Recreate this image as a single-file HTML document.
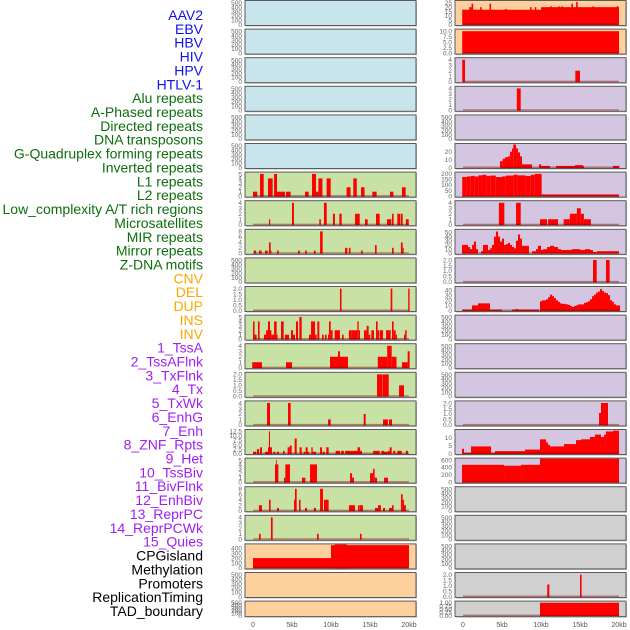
<!DOCTYPE html>
<html><head><meta charset="utf-8"><style>
html,body{margin:0;padding:0;background:#fff;}
svg{display:block;font-family:"Liberation Sans",sans-serif;}
</style></head><body>
<svg id="chart" width="630" height="630" viewBox="0 0 630 630" xmlns="http://www.w3.org/2000/svg"></svg>
<script>
// ---- labels ----
const rowLabels = ["AAV2","EBV","HBV","HIV","HPV","HTLV-1","Alu repeats","A-Phased repeats","Directed repeats","DNA transposons","G-Quadruplex forming repeats","Inverted repeats","L1 repeats","L2 repeats","Low_complexity A/T rich regions","Microsatellites","MIR repeats","Mirror repeats","Z-DNA motifs","CNV","DEL","DUP","INS","INV","1_TssA","2_TssAFlnk","3_TxFlnk","4_Tx","5_TxWk","6_EnhG","7_Enh","8_ZNF_Rpts","9_Het","10_TssBiv","11_BivFlnk","12_EnhBiv","13_ReprPC","14_ReprPCWk","15_Quies","CPGisland","Methylation","Promoters","ReplicationTiming","TAD_boundary"];
const xTickVals = [0,5,10,15,20];
const xTickLabels = ["0","5kb","10kb","15kb","20kb"];

// ---- left column series: [startKb, endKb, value] ----
const L6 = [[0,0.55,1],[0.9,1.37,5],[1.92,2.52,4],[2.7,3.08,5],[3.08,4.1,1],[4.23,4.83,1],[6.67,7.14,1],[7.56,8.08,5],[8.08,8.38,1],[8.38,8.9,4],[9.44,9.96,4],[12,12.5,2],[12.86,13.3,4],[13.85,14.3,2],[15.3,15.85,1],[17.56,18,1],[19.1,19.57,2]];
const L7 = [[2.05,2.2,1],[5,5.25,4],[8.5,8.7,1],[9.1,9.45,4],[10.25,10.5,2],[11.07,11.37,2],[13.08,13.68,2],[14.36,14.7,1],[15.77,16.24,2],[17.18,17.74,1],[17.82,18.03,2],[18.5,18.85,2],[18.93,19.19,2],[19.6,19.96,1]];
const L8 = [[0.1,0.4,1],[0.77,1.1,1],[1.54,1.88,1],[2.05,2.26,4],[2.26,2.35,1],[3.08,3.3,1],[5.77,6,1],[6.67,6.9,1],[7.8,8.03,1],[8.6,8.93,8],[11.8,12.1,2],[12.3,12.5,2],[13.85,14.06,1],[15.64,15.85,3],[17.82,18.03,2],[18.97,19.19,4],[19.19,19.32,2]];
const L10 = [[11.15,11.35,2],[17.65,17.86,2],[19.9,20.08,2]];
const L11 = [[0,0.2,4],[0.2,0.47,1],[0.64,0.85,4],[1.41,1.67,1],[1.67,1.92,2],[1.92,2.18,4],[2.18,2.35,2],[2.35,2.7,1],[2.7,3.03,4],[3.03,3.16,1],[3.59,3.93,4],[4.1,4.62,1],[4.87,5.13,2],[5.13,5.38,1],[5.51,5.77,4],[5.94,6.24,5],[7.18,7.44,1],[7.44,7.95,4],[7.95,8.16,1],[8.25,8.5,4],[8.85,9.06,1],[9.23,9.44,1],[9.62,9.74,1],[9.74,9.96,4],[9.96,10.21,2],[10.47,11.15,2],[11.41,11.62,1],[12.3,12.65,2],[12.65,13.38,2],[13.38,13.55,4],[13.55,13.72,2],[14.23,14.57,2],[14.57,14.83,3],[14.83,15.04,1],[15.17,15.51,2],[15.77,15.98,4],[15.98,16.2,2],[16.28,16.67,2],[17.06,17.65,2],[17.82,18.03,4],[18.03,18.29,2],[18.29,18.46,1],[19.36,19.5,1],[19.5,19.7,2]];
const L12 = [[-0.1,1.15,1],[4.23,5,1],[9.87,12.18,2],[10.9,11.15,3],[16,17.2,2],[17.2,17.78,4],[17.78,18.4,2],[19.1,19.83,1],[19.83,20.08,3]];
const L13 = [[15.9,16.54,2],[16.58,17.4,2],[18.72,19.36,1]];
const L14 = [[1.8,2.18,4],[4.49,4.83,4],[9.62,9.96,1],[14.19,14.44,2],[16.67,17.3,1],[17.44,17.82,1]];
const L15 = [[0,0.4,1],[0.5,0.77,2.5],[0.9,1.15,3.5],[1.54,1.92,1],[1.92,2.05,3.5],[2.05,2.18,12.5],[2.18,2.43,3.5],[2.6,2.86,1],[3.08,3.33,1],[3.85,4.06,1.5],[4.44,4.7,3.5],[4.7,4.96,4.5],[5.34,5.6,8.5],[5.98,6.24,3.5],[6.5,6.7,1],[6.75,7.01,3.5],[7.01,7.2,1],[7.48,7.65,3.5],[7.65,8.08,1],[8.6,8.85,3.5],[8.94,9.2,1],[9.4,9.7,3.5],[10.6,11.15,1.5],[11.3,11.65,1.5],[11.82,12.5,1.5],[12.52,13.4,1.5],[13.4,13.72,3.5],[13.72,13.97,1.5],[15.4,16.24,1.5],[16.45,16.8,1.5],[16.8,17.27,1],[17.27,17.52,1.5],[17.52,17.78,3.5],[17.99,18.24,1.5],[18.5,19.06,1.5],[19.6,19.87,1.5]];
const L16 = [[2.82,3.25,4],[2.95,3.05,5],[3.97,4.15,1],[4.15,4.74,4],[6.28,6.71,1],[7.31,8.2,4],[12.44,12.7,2],[12.7,12.95,1],[15,15.4,2],[15.4,15.6,3],[15.6,15.9,1],[16.8,17.3,1]];
const L17 = [[0.77,1.15,2],[2.05,2.26,4],[3.08,3.33,1],[5.26,5.45,4],[5.38,5.6,8],[5.9,6.1,4],[6.67,6.92,1],[7.8,8.08,1],[8.6,8.97,8],[9.1,9.7,4],[12.3,12.56,2],[12.56,13.08,2],[13.46,13.68,2],[13.72,14.1,2],[15.64,16.03,1],[16.03,16.4,2],[16.67,16.92,1],[17.44,17.82,1],[17.82,18.03,2],[18.97,19.19,6],[19.19,19.36,4],[19.36,19.6,2]];
const L18 = [[0.77,0.98,1],[2.3,2.52,4],[8.2,8.42,1],[13.72,13.93,1]];
const L19 = [[0,10,200],[10,20,465],[10.5,12,480]];

// ---- right column series ----
const R0 = [[-0.1,10,17],[10,20,20],[0.8,1.1,20],[1.1,1.3,24],[2.2,2.4,20],[3.4,3.6,24],[5.4,5.6,18],[8.6,8.8,20],[9.2,9.4,20],[11.2,11.4,21],[12.2,12.4,21],[12.6,12.8,21],[13.9,14.1,24],[14.5,14.7,26],[16.6,16.8,21],[19.7,19.9,21]];
const R1 = [[-0.1,20,10]];
const R2 = [[-0.1,0.26,4],[14.4,15,2]];
const R3 = [[6.9,7.4,4]];
const R5 = [[4.74,5.09,8],[5.09,5.38,11],[5.38,5.77,13],[5.77,6.03,14],[6.03,6.28,20],[6.28,6.45,24],[6.45,6.8,29],[6.8,7.05,24],[7.05,7.31,19],[7.31,7.56,14],[7.56,8.85,4],[9.74,10,4],[10,11.15,2],[11.92,14.36,2],[14.36,15.38,3],[15.38,15.51,2],[19.23,20.05,2]];
const R6 = [[-0.1,0.5,170],[0.5,1,175],[1,1.5,180],[1.5,2,175],[2,2.5,185],[2.5,3,190],[3,3.5,180],[3.5,4.2,183],[4.2,5,170],[5,5.5,175],[5.5,6.5,183],[6.5,7,190],[7,8,185],[8,8.7,180],[8.7,9.2,190],[9.2,10.08,198],[10.08,20,15]];
const R7 = [[4.6,5.3,4],[6.8,7.4,4],[9.87,10.77,1],[10.9,12.18,1],[12.9,13.7,1],[13.7,14.6,2],[14.6,15.1,3],[15.1,15.5,2],[15.5,16.4,1]];
const R8 = [[-0.13,0.64,20],[0.64,0.9,15],[0.9,1.15,10],[1.15,1.41,20],[1.41,1.67,28],[1.67,1.92,10],[2.31,2.56,5],[2.56,3.21,20],[3.21,3.46,8],[3.46,3.72,12],[3.72,3.97,20],[3.97,4.23,40],[4.23,4.49,52],[4.49,4.74,40],[4.74,5,28],[5,5.26,35],[5.26,5.51,20],[5.51,5.77,22],[5.77,6.03,25],[6.03,6.28,20],[6.28,6.54,15],[6.54,6.79,12],[6.79,7.05,30],[7.05,7.31,45],[7.31,7.56,35],[7.56,8.46,18],[8.85,9.36,5],[9.36,9.62,10],[9.62,10,18],[10,10.26,8],[10.26,10.77,10],[10.77,11.15,15],[11.15,11.67,18],[11.67,12.18,15],[12.18,12.56,10],[12.56,13.46,8],[13.46,13.97,8],[13.97,15,10],[15,15.64,8],[15.64,16.28,10],[16.28,16.67,8],[16.67,17.18,3],[17.18,17.56,5],[17.56,18.33,5],[18.33,20,5]];
const R9 = [[16.67,17.14,2],[18.33,18.8,2]];
const R10a = [[-0.13,1.15,2],[1.15,1.92,10],[1.92,3.46,14],[3.46,5,2],[6.28,6.79,2],[6.79,7.05,3],[7.05,9.74,2]];
const R10start = 9.87;
const R10vals = [18,20,20,22,26,31,28,24,20,17,14,13,13,12,11,9,7,9,10,12,12,12,15,16,18,22,28,31,35,37,42,38,35,34,30,20,17,12,10,10];
const R14 = [[17.44,17.69,1.1],[17.69,18.59,2]];
const R15 = [[-0.13,0.13,3],[0.13,1.03,0.5],[1.03,3.59,4.5],[3.59,4.1,0.5],[4.1,7.95,1.5],[7.95,9.87,2.5],[9.87,10.64,9],[10.64,10.9,7],[10.9,11.15,5.5],[11.15,12.95,4.5],[12.95,14.49,6],[14.49,15.13,8.5],[15.13,16.28,9],[16.28,16.92,10.5],[16.92,17.69,12],[17.69,18.08,10.5],[18.08,18.33,12],[18.33,19.23,14],[19.23,20,14.5]];
const R16 = [[-0.13,5.26,470],[5.26,7.44,445],[7.44,9.87,470],[9.87,20,640]];
const R20 = [[10.8,11.07,1.1],[15,15.2,2]];
const R21 = [[9.87,20,1]];

// ---- panel configs (bg, ymax, ticks, series, decimals) ----
const BLUE="#c8e4ec", GREEN="#c8e1a4", PEACH="#fed09e", LAV="#d4c6e0", GRAY="#d0d0d0";
const E500=[0,100,200,300,400,500];
const leftPanels = [
 [BLUE,530,E500,null],[BLUE,530,E500,null],[BLUE,530,E500,null],[BLUE,530,E500,null],[BLUE,530,E500,null],[BLUE,530,E500,null],
 [GREEN,5.2,[0,1,2,3,4,5],L6],[GREEN,4.2,[0,1,2,3,4],L7],[GREEN,8.4,[0,2,4,6,8],L8],[GREEN,530,E500,null],
 [GREEN,2.1,[0,0.5,1,1.5,2],L10,1],[GREEN,5.2,[0,1,2,3,4,5],L11],[GREEN,4.2,[0,1,2,3,4],L12],[GREEN,2.1,[0,0.5,1,1.5,2],L13,1],
 [GREEN,4.2,[0,1,2,3,4],L14],[GREEN,13,[0,2.5,5,7.5,10,12.5],L15,1],[GREEN,5.2,[0,1,2,3,4,5],L16],[GREEN,8.4,[0,2,4,6,8],L17],
 [GREEN,4.2,[0,1,2,3,4],L18],[PEACH,470,[0,100,200,300,400],L19],[PEACH,530,E500,null],[PEACH,530,E500,null]
];
const rightPanels = [
 [PEACH,26.5,[0,5,10,15,20,25],R0],[PEACH,10.5,[0,2.5,5,7.5,10],R1,1],[LAV,4.2,[0,1,2,3,4],R2],[LAV,4.2,[0,1,2,3,4],R3],
 [LAV,530,E500,null],[LAV,29,[0,10,20],R5],[LAV,205,[0,50,100,150,200],R6],[LAV,4.2,[0,1,2,3,4],R7],
 [LAV,55,[0,10,20,30,40,50],R8],[LAV,2.1,[0,0.5,1,1.5,2],R9,1],[LAV,45,[0,10,20,30,40],"R10"],[LAV,530,E500,null],
 [LAV,530,E500,null],[LAV,530,E500,null],[LAV,2.1,[0,0.5,1,1.5,2],R14,1],[LAV,14.6,[0,5,10],R15],
 [LAV,625,[0,200,400,600],R16],[GRAY,530,E500,null],[GRAY,530,E500,null],[GRAY,530,E500,null],
 [GRAY,2.1,[0,0.5,1,1.5,2],R20,1],[GRAY,1.05,[0,0.25,0.5,0.75,1],R21,2]
];

const svg = document.getElementById('chart');
const NS = "http://www.w3.org/2000/svg";
function mk(tag, attrs, parent){
  const e = document.createElementNS(NS, tag);
  for (const k in attrs) e.setAttribute(k, attrs[k]);
  (parent||svg).appendChild(e);
  return e;
}

const labColors = i => i<6 ? "#1010f0" : i<19 ? "#0d6e0d" : i<24 ? "#ffa500" : i<39 ? "#a020f0" : "#000";
rowLabels.forEach((t,i)=>{
  const el = mk('text',{x:203,y:15+i*13.86+5,'text-anchor':'end','font-size':'14',fill:labColors(i)});
  el.textContent = t;
  
  
});

function drawCol(panels, px0, pw, x0, x20, colName){
  const xs = kb => x0 + (x20-x0)*kb/20;
  panels.forEach((p,i)=>{
    const top = 0.5 + i*28.6;
    const h = i===21 ? 15.5 : 25;
    const g = mk('g',{});
    
    
    const [bg, ymax, ticks, series, dec] = p;
    const yb = top + h - 1, yt = top + 1;
    const ys = v => yb - (yb-yt)*v/ymax;
    mk('rect',{x:px0+1,y:top+1,width:pw,height:h,fill:'#bbb'},g);
    mk('rect',{x:px0,y:top,width:pw,height:h,fill:bg,stroke:'#5a5a5a','stroke-width':1},g);
    const clipId = 'c'+colName+i;
    const cp = mk('clipPath',{id:clipId},g);
    mk('rect',{x:px0+0.5,y:top+0.5,width:pw-1,height:h-1},cp);
    const bars = mk('g',{'clip-path':'url(#'+clipId+')'},g);
    let segs = null;
    if (series === "R10") {
      segs = R10a.slice();
      const bw = 6/23.4;
      R10vals.forEach((v,k)=>segs.push([R10start+k*bw, R10start+(k+1)*bw, v]));
    } else segs = series;
    if (segs) {
      segs.forEach(s=>{
        const r = mk('rect',{x:xs(s[0]),y:ys(s[2]),width:Math.max(0.8,xs(s[1])-xs(s[0])),height:yb-ys(s[2])+0.5,fill:'#ff0000'},bars);
        
        
      });
      mk('rect',{x:xs(0),y:yb-1,width:xs(20)-xs(0),height:1.5,fill:'rgba(140,0,0,0.45)'},bars);
    }
    ticks.forEach(t=>{
      const tx = mk('text',{x:px0-3,y:ys(t)+2.3,'text-anchor':'end','font-size':'6.5',fill:'#666'},g);
      tx.textContent = dec ? t.toFixed(dec) : String(t);
    });
  });
  xTickVals.forEach((v,k)=>{
    const t = mk('text',{x:xs(v),y:627,'text-anchor':'middle','font-size':'7',fill:'#555'});
    t.textContent = xTickLabels[k];
    
    
  });
}
drawCol(leftPanels, 245, 171, 253, 409, 'left');
drawCol(rightPanels, 455, 171, 463, 619, 'right');
</script>
</body></html>
